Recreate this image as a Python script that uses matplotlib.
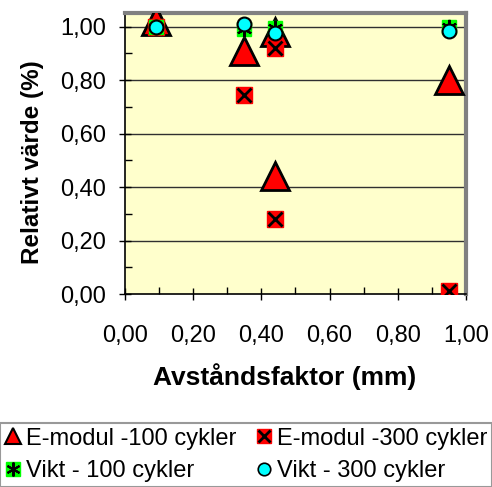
import matplotlib.pyplot as plt
from matplotlib.ticker import FuncFormatter, MultipleLocator
from matplotlib.lines import Line2D

plt.rcParams['font.family'] = ['Liberation Sans', 'DejaVu Sans']

# data
e100_x = [0.09, 0.35, 0.44, 0.44, 0.95]
e100_y = [1.02, 0.91, 0.98, 0.44, 0.80]

e300_x = [0.09, 0.35, 0.44, 0.44, 0.95]
e300_y = [1.00, 0.745, 0.92, 0.28, 0.01]

v100_x = [0.09, 0.35, 0.44, 0.95]
v100_y = [1.00, 0.99, 0.995, 1.00]

v300_x = [0.09, 0.35, 0.44, 0.95]
v300_y = [1.00, 1.01, 0.975, 0.985]

labels = ['E-modul -100 cykler', 'E-modul -300 cykler',
          'Vikt - 100 cykler', 'Vikt - 300 cykler']

fig = plt.figure(figsize=(4.92, 4.87), dpi=100)
ax = fig.add_axes([0.254, 0.396, 0.693, 0.577])
ax.set_facecolor('#ffffcc')

for yv in [0.2, 0.4, 0.6, 0.8, 1.0]:
    ax.axhline(yv, color='#303030', lw=1, zorder=1)

ax.plot(e100_x, e100_y, ls='none', marker='^', ms=20, mfc='red',
        mec='black', mew=2, zorder=3)
ax.plot(e300_x, e300_y, ls='none', marker='s', ms=11, mfc='red',
        mec='red', zorder=4)
ax.plot(e300_x, e300_y, ls='none', marker='x', ms=10, mec='black',
        mew=2, zorder=4)
ax.plot(v100_x, v100_y, ls='none', marker='s', ms=10, mfc='#00ff00',
        mec='#00ff00', zorder=5)
ax.plot(v100_x, v100_y, ls='none', marker=(6, 2, 0), ms=11,
        mec='black', mew=1.5, zorder=5)
ax.plot(v300_x, v300_y, ls='none', marker='o', ms=10, mfc='#00ffff',
        mec='black', mew=1.5, zorder=6)

ax.set_xlim(0, 1.0)
ax.set_ylim(0, 1.05)
ax.xaxis.set_major_locator(MultipleLocator(0.2))
ax.yaxis.set_major_locator(MultipleLocator(0.2))
ax.yaxis.set_minor_locator(MultipleLocator(0.1))
ax.xaxis.set_minor_locator(MultipleLocator(0.1))
fmt = FuncFormatter(lambda v, p: f"{v:.2f}".replace('.', ','))
ax.xaxis.set_major_formatter(fmt)
ax.yaxis.set_major_formatter(fmt)
ax.tick_params(which='major', labelsize=17, length=9, width=1,
               color='black', direction='inout')
ax.tick_params(which='minor', length=5, width=1, direction='in')
ax.tick_params(axis='x', pad=18)
ax.tick_params(axis='y', pad=9)

for s in ['top', 'right']:
    ax.spines[s].set_color('#808080')
    ax.spines[s].set_linewidth(3)
for s in ['left', 'bottom']:
    ax.spines[s].set_color('black')
    ax.spines[s].set_linewidth(1.2)

ax.set_xlabel('Avståndsfaktor (mm)', fontsize=19, fontweight='bold', labelpad=11)
ax.set_ylabel('Relativt värde (%)', fontsize=17.5, fontweight='bold', labelpad=12)
ax.xaxis.label.set_x(0.469)
ax.yaxis.label.set_y(0.47)

# legend proxies (row-wise order like the original)
p1 = Line2D([], [], ls='none', marker='^', ms=12, mfc='red', mec='black', mew=1.5)
p2 = (Line2D([], [], ls='none', marker='s', ms=10, mfc='red', mec='red'),
      Line2D([], [], ls='none', marker='x', ms=8, mec='black', mew=2))
p3 = (Line2D([], [], ls='none', marker='s', ms=10, mfc='#00ff00', mec='#00ff00'),
      Line2D([], [], ls='none', marker=(6, 2, 0), ms=10, mec='black', mew=1.5))
p4 = Line2D([], [], ls='none', marker='o', ms=9, mfc='#00ffff', mec='black', mew=1.2)

leg = fig.legend([p1, p3, p2, p4], [labels[0], labels[2], labels[1], labels[3]],
                 loc='lower left', bbox_to_anchor=(0.0, 0.0, 1.0, 0.142),
                 mode='expand', ncol=2, fontsize=17, frameon=True,
                 fancybox=False, edgecolor='#808080', handlelength=0.7,
                 handletextpad=0.2, columnspacing=0.4, borderaxespad=0,
                 borderpad=0.2, labelspacing=0.45)
leg.get_frame().set_linewidth(1.5)

fig.savefig('out.png', dpi=100)
